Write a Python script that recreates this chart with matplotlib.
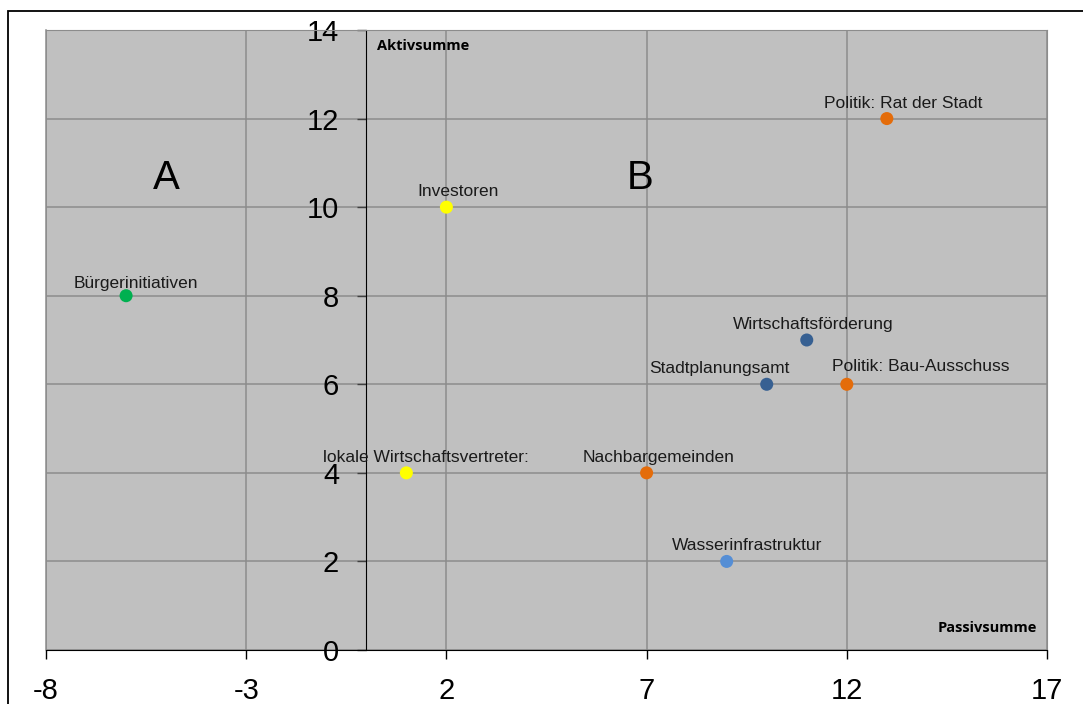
import matplotlib
matplotlib.use("Agg")
import matplotlib.pyplot as plt
from matplotlib.patches import Rectangle

# data
names = ["Bürgerinitiativen", "Investoren", "lokale Wirtschaftsvertreter:",
         "Nachbargemeinden", "Wasserinfrastruktur", "Stadtplanungsamt",
         "Wirtschaftsförderung", "Politik: Bau-Ausschuss", "Politik: Rat der Stadt"]
passiv = [-6, 2, 1, 7, 9, 10, 11, 12, 13]
aktiv = [8, 10, 4, 4, 2, 6, 7, 6, 12]
colors = ["#00B050", "#FFFF00", "#FFFF00", "#E46C0A", "#558ED5",
          "#376092", "#376092", "#E46C0A", "#E46C0A"]
x_ticks = [-8, -3, 2, 7, 12, 17]
y_ticks = [0, 2, 4, 6, 8, 10, 12, 14]

# label offsets (pixels) as placed in the original chart
label_dx = [10, 12, 20, 12, 20, -47, 6, 74, 16]
label_dy = [8, 11, 11, 11, 11, 11, 11, 13, 11]

plt.rcParams["font.family"] = ["Liberation Sans", "DejaVu Sans"]
plt.rcParams["axes.unicode_minus"] = False

fig = plt.figure(figsize=(10.83, 7.04), dpi=100)
ax = fig.add_axes([46/1083, 1 - 650/704, 1001/1083, 620/704])

# outer chart border (runs off the right and bottom edge)
fig.patches.append(Rectangle((8/1083, -0.2), 1.2, 0.2 + (1 - 11/704),
                             transform=fig.transFigure, fill=False,
                             edgecolor="black", linewidth=1.3))

ax.set_facecolor("#C0C0C0")
ax.set_xlim(-8, 17)
ax.set_ylim(0, 14)
ax.set_xticks(x_ticks)
ax.set_yticks(y_ticks)
ax.grid(True, color="#8C8C8C", linewidth=1.1)
ax.set_axisbelow(True)

# y axis crosses at x = 0
ax.spines["left"].set_position(("data", 0))
ax.spines["left"].set_color("black")
ax.spines["bottom"].set_color("black")
for s in ["top", "right"]:
    ax.spines[s].set_color("#8C8C8C")
ax.plot([-8, -8], [0, 14], color="#8C8C8C", linewidth=1.1, clip_on=False)

ax.tick_params(axis="both", direction="out", length=6.5, width=1,
               labelsize=21, pad=13)
ax.tick_params(axis="y", color="#404040")

ax.scatter(passiv, aktiv, s=88, c=colors, zorder=3, linewidths=0)
for n, xv, yv, dx, dy in zip(names, passiv, aktiv, label_dx, label_dy):
    ax.annotate(n, (xv, yv), xytext=(dx * 0.72, dy * 0.72),
                textcoords="offset points", ha="center", va="baseline",
                fontsize=12.5, color="#1a1a1a")

ax.text(-5, 10.65, "A", fontsize=29, ha="center", va="center")
ax.text(6.85, 10.65, "B", fontsize=29, ha="center", va="center")

ax.text(0.27, 13.65, "Aktivsumme", fontsize=10.5, fontweight="bold",
        family="Open Sans", ha="left", va="center")
ax.text(16.75, 0.5, "Passivsumme", fontsize=10.5, fontweight="bold",
        family="Open Sans", ha="right", va="center")

fig.savefig("out.png", dpi=100)
